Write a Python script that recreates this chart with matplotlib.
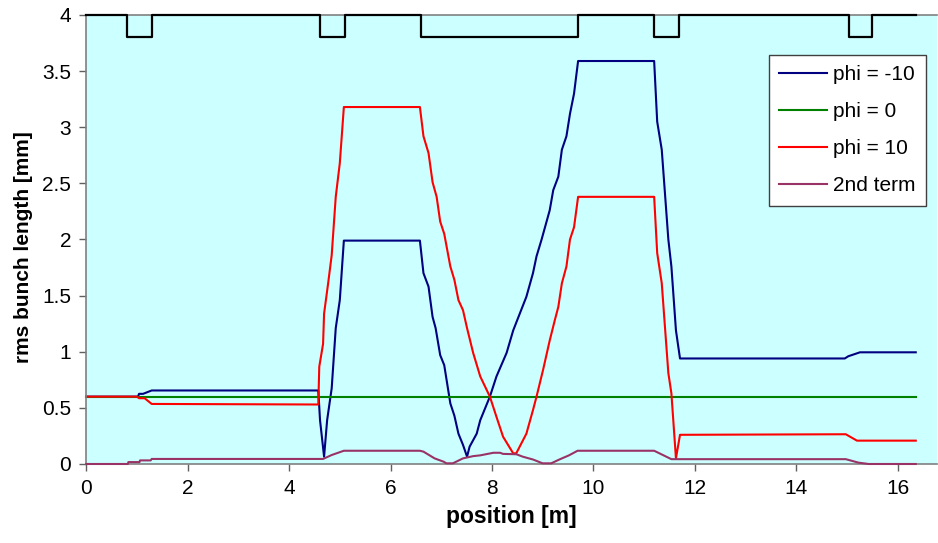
import matplotlib
matplotlib.use("Agg")
import matplotlib.pyplot as plt
import numpy as np
from matplotlib.ticker import FormatStrFormatter

# phi = -10
bx = [0, 1.02, 1.04, 1.12, 1.29, 4.576, 4.61, 4.69, 4.75, 4.84, 4.92, 5.0, 5.08, 6.58, 6.65, 6.75, 6.83,
      6.89, 6.98, 7.06, 7.18, 7.26, 7.34, 7.43, 7.51, 7.56, 7.70, 7.77, 7.96, 8.09, 8.29, 8.42, 8.55, 8.68,
      8.81, 8.88, 8.98, 9.14, 9.21, 9.31, 9.38, 9.47, 9.54, 9.62, 9.70, 11.2, 11.26, 11.35, 11.48, 11.54,
      11.63, 11.71, 14.96, 15.03, 15.26, 16.36]
by = [0.6, 0.6, 0.625, 0.625, 0.655, 0.655, 0.39, 0.065, 0.39, 0.674, 1.21, 1.46, 1.99, 1.99, 1.70, 1.58, 1.31,
      1.21, 0.97, 0.88, 0.54, 0.43, 0.27, 0.17, 0.065, 0.154, 0.27, 0.39, 0.6, 0.78, 0.99, 1.19, 1.34, 1.49,
      1.70, 1.85, 2.0, 2.26, 2.44, 2.56, 2.80, 2.92, 3.12, 3.30, 3.59, 3.59, 3.05, 2.80, 2.0, 1.76,
      1.19, 0.94, 0.94, 0.96, 0.995, 0.995]

# phi = 0
gx = [0, 4.6, 5.1, 6.6, 9.7, 11.2, 11.7, 15.0, 15.5, 16.36]
gy = [0.6, 0.6, 0.6, 0.6, 0.6, 0.6, 0.6, 0.6, 0.6, 0.6]

# phi = 10
rx = [0, 1.0, 1.04, 1.15, 1.29, 4.576, 4.595, 4.67, 4.69, 4.77, 4.84, 4.92, 5.0, 5.08, 6.58, 6.65, 6.75,
      6.83, 6.91, 6.98, 7.06, 7.18, 7.26, 7.34, 7.43, 7.51, 7.63, 7.77, 7.96, 8.09, 8.22, 8.42, 8.48, 8.68,
      8.81, 8.88, 9.01, 9.14, 9.24, 9.31, 9.38, 9.47, 9.54, 9.62, 9.70, 11.2, 11.26, 11.35, 11.48, 11.54,
      11.63, 11.71, 14.98, 15.2, 16.36]
ry = [0.6, 0.6, 0.586, 0.586, 0.535, 0.53, 0.867, 1.07, 1.34, 1.61, 1.86, 2.38, 2.68, 3.18, 3.18, 2.92, 2.77,
      2.51, 2.38, 2.16, 2.05, 1.76, 1.64, 1.46, 1.37, 1.21, 0.99, 0.78, 0.6, 0.42, 0.243, 0.095, 0.095, 0.27,
      0.48, 0.6, 0.84, 1.1, 1.28, 1.40, 1.61, 1.76, 2.0, 2.11, 2.38, 2.38, 1.88, 1.61, 0.81, 0.63,
      0.05, 0.26, 0.265, 0.208, 0.208]

# 2nd term
px = [0, 0.82, 0.83, 1.05, 1.06, 1.27, 1.29, 4.58, 4.67, 4.84, 5.08, 6.58, 6.65, 6.87, 7.05, 7.1, 7.23,
      7.43, 7.63, 7.77, 8.03, 8.16, 8.22, 8.48, 8.61, 8.81, 9.0, 9.17, 9.33, 9.52, 9.69, 11.2, 11.54,
      14.98, 15.23, 15.43, 16.36]
py = [0, 0, 0.017, 0.017, 0.032, 0.032, 0.045, 0.045, 0.045, 0.08, 0.118, 0.118, 0.11, 0.05, 0.02, 0.006, 0.006,
      0.05, 0.07, 0.077, 0.1, 0.1, 0.09, 0.087, 0.065, 0.04, 0.006, 0.006, 0.04, 0.077, 0.118, 0.118, 0.043,
      0.043, 0.012, 0.0, 0.0]

# lattice elements drawn along the top
elem_start = [0.8, 4.6, 6.6, 11.2, 15.05]
elem_end = [1.3, 5.1, 9.7, 11.7, 15.5]
line_end = 16.36

# build the element outline
ex = [0]
ey = [4]
for s, e in zip(elem_start, elem_end):
    ex += [s, s, e, e]
    ey += [4, 3.8, 3.8, 4]
ex.append(line_end)
ey.append(4)

plt.rcParams['font.family'] = ['Liberation Sans', 'DejaVu Sans']

fig = plt.figure(figsize=(9.38, 5.43), dpi=100)
ax = fig.add_axes([0.092, 0.1455, 0.907, 0.8269])
ax.set_facecolor('#CCFFFF')

ax.plot(ex, ey, color='black', lw=1.6, clip_on=False, zorder=5)
ax.plot(bx, by, color='#000080', lw=1.5, label='phi = -10', clip_on=False)
ax.plot(gx, gy, color='#008000', lw=1.5, label='phi = 0', clip_on=False)
ax.plot(rx, ry, color='#FF0000', lw=1.5, label='phi = 10', clip_on=False)
ax.plot(px, py, color='#993366', lw=1.5, label='2nd term', clip_on=False, zorder=4)

ax.set_xlim(0, 16.78)
ax.set_ylim(0, 4)
ax.set_xticks(np.arange(0, 17, 2))
ax.set_yticks(np.arange(0, 4.01, 0.5))
ax.yaxis.set_major_formatter(FormatStrFormatter('%g'))
ax.tick_params(labelsize=15, length=5, width=1, color='#606060', direction='out', pad=6)
for side in ['left', 'bottom', 'top']:
    ax.spines[side].set_color('#808080')
    ax.spines[side].set_linewidth(1.2)
ax.spines['right'].set_visible(False)

ax.set_xlabel('position [m]', fontsize=16.5, fontweight='bold', labelpad=5)
ax.set_ylabel('rms bunch length [mm]', fontsize=15, fontweight='bold')
ax.yaxis.set_label_coords(-0.063, 0.483)

leg = ax.legend(loc='upper right', bbox_to_anchor=(0.987, 0.911), borderaxespad=0, fontsize=15,
                fancybox=False, framealpha=1, edgecolor='#404040', handlelength=2.3,
                labelspacing=0.86, borderpad=0.5, handletextpad=0.3)
leg.get_frame().set_linewidth(1.0)

fig.savefig('out.png', dpi=100)
